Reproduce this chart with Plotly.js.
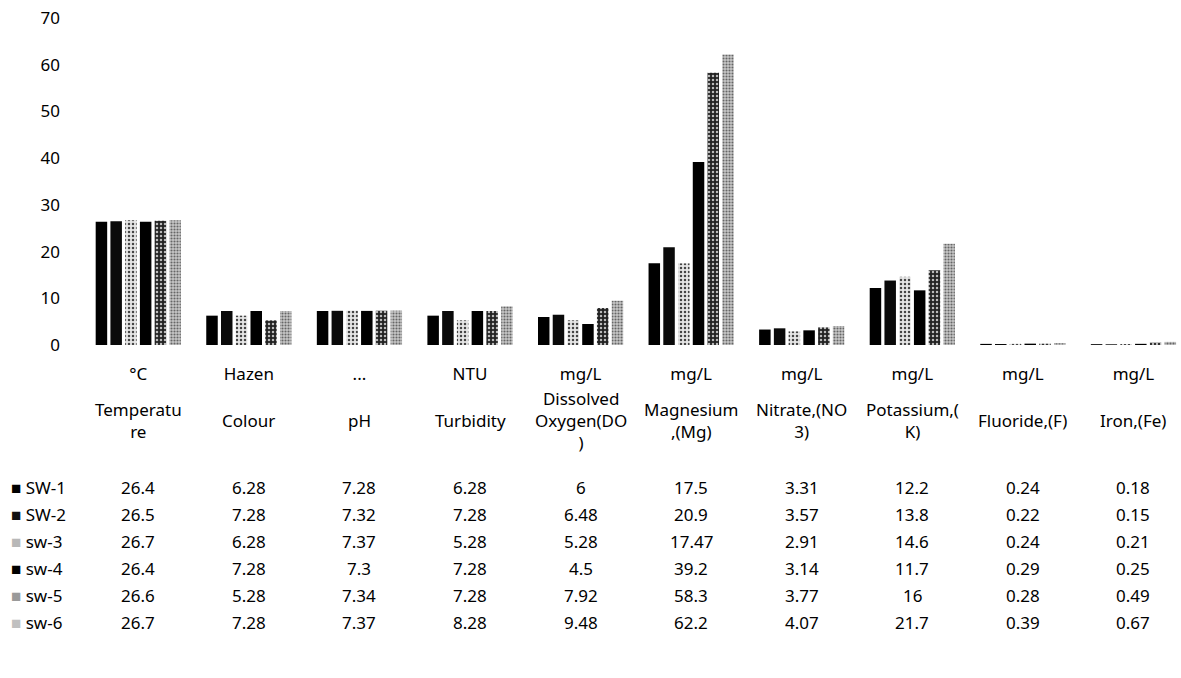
<!DOCTYPE html>
<html>
<head>
<meta charset="utf-8">
<script src="https://cdn.plot.ly/plotly-3.0.1.min.js"></script>
<style>html,body{margin:0;padding:0;background:#fff;}#chart{width:1181px;height:678px;}</style>
</head>
<body>
<div id="chart"></div>
<script>
// ---- data ----
const units = ['°C', 'Hazen', '...', 'NTU', 'mg/L', 'mg/L', 'mg/L', 'mg/L', 'mg/L', 'mg/L'];
const parameters = ['Temperatu<br>re', 'Colour', 'pH', 'Turbidity', 'Dissolved<br>Oxygen(DO<br>)',
  'Magnesium<br>,(Mg)', 'Nitrate,(NO<br>3)', 'Potassium,(<br>K)', 'Fluoride,(F)', 'Iron,(Fe)'];
const seriesNames = ['SW-1', 'SW-2', 'sw-3', 'sw-4', 'sw-5', 'sw-6'];
const sw1 = [26.4, 6.28, 7.28, 6.28, 6, 17.5, 3.31, 12.2, 0.24, 0.18];
const sw2 = [26.5, 7.28, 7.32, 7.28, 6.48, 20.9, 3.57, 13.8, 0.22, 0.15];
const sw3 = [26.7, 6.28, 7.37, 5.28, 5.28, 17.47, 2.91, 14.6, 0.24, 0.21];
const sw4 = [26.4, 7.28, 7.3, 7.28, 4.5, 39.2, 3.14, 11.7, 0.29, 0.25];
const sw5 = [26.6, 5.28, 7.34, 7.28, 7.92, 58.3, 3.77, 16, 0.28, 0.49];
const sw6 = [26.7, 7.28, 7.37, 8.28, 9.48, 62.2, 4.07, 21.7, 0.39, 0.67];
const seriesValues = [sw1, sw2, sw3, sw4, sw5, sw6];

// ---- styles ----
const FONT = 'Noto Sans, Open Sans, sans-serif';
const styles = [
  {color: '#000000'},
  {color: '#0a0a0a'},
  {color: '#c4c4c4', pattern: {shape: '.', fgcolor: '#444', bgcolor: '#e6e6e6', size: 4, solidity: 0.3}},
  {color: '#000000'},
  {color: '#2a2a2a', pattern: {shape: '.', fgcolor: '#bbbbbb', bgcolor: '#222222', size: 4, solidity: 0.3}},
  {color: '#a8a8a8', pattern: {shape: '.', fgcolor: '#666', bgcolor: '#c8c8c8', size: 3, solidity: 0.4}}
];
const keyColors = ['#000', '#111', '#b8b8b8', '#000', '#9a9a9a', '#c0c0c0'];

const idx = units.map((u, i) => i);
const traces = seriesNames.map((n, s) => ({
  type: 'bar', name: n, x: idx, y: seriesValues[s],
  marker: Object.assign({line: {width: 0}}, styles[s]),
  hoverinfo: 'skip'
}));

// ---- table annotations ----
const plotTop = 18, plotBottom = 345, plotH = plotBottom - plotTop;
const py = px => (plotBottom - px) / plotH;
const plotLeft = 83, plotW = 1181 - plotLeft;
const pxX = px => (px - plotLeft) / plotW;
const ann = [];
const tf = {family: FONT, size: 17, color: '#000'};
parameters.forEach((p, i) => ann.push({
  xref: 'x', yref: 'paper', x: i, y: py(420), text: p, showarrow: false,
  xanchor: 'center', yanchor: 'middle', align: 'center', font: tf
}));
const rowY = [487, 514, 541, 568, 595, 622];
seriesNames.forEach((n, s) => {
  ann.push({
    xref: 'paper', yref: 'paper', x: pxX(9), y: py(rowY[s]), showarrow: false,
    xanchor: 'left', yanchor: 'middle',
    text: '<span style="color:' + keyColors[s] + '">■</span> ' + n, font: tf
  });
  seriesValues[s].forEach((v, i) => ann.push({
    xref: 'x', yref: 'paper', x: i, y: py(rowY[s]), text: String(v), showarrow: false,
    xanchor: 'center', yanchor: 'middle', font: tf
  }));
});

const layout = {
  width: 1181, height: 678,
  margin: {l: plotLeft, r: 0, t: plotTop, b: 678 - plotBottom},
  paper_bgcolor: '#fff', plot_bgcolor: '#fff',
  showlegend: false,
  barmode: 'group', bargap: 0.2, bargroupgap: 0.22,
  font: tf,
  xaxis: {
    range: [-0.5, 9.43], tickmode: 'array', tickvals: idx, ticktext: units,
    showgrid: false, zeroline: false, showline: false, ticks: '',
    tickfont: tf, ticklabelstandoff: 17, fixedrange: true
  },
  yaxis: {
    range: [0, 70], dtick: 10, showgrid: false, zeroline: false, showline: false,
    ticks: '', tickfont: tf, ticklabelstandoff: 22, fixedrange: true
  },
  annotations: ann
};
Plotly.newPlot('chart', traces, layout, {displayModeBar: false, staticPlot: true});
</script>
</body>
</html>
